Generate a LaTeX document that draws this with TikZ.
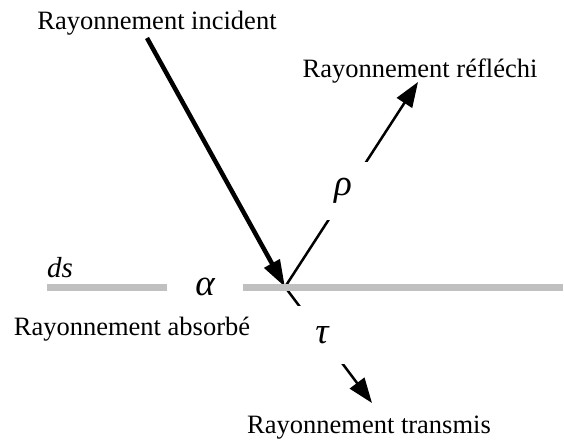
\documentclass[tikz,border=0pt]{standalone}
\usepackage{fontspec}
\setmainfont{Liberation Serif}
\usetikzlibrary{arrows.meta}

\begin{document}
\begin{tikzpicture}[x=1pt, y=-1pt,
    label/.style={font=\fontsize{26.5}{30}\selectfont, inner sep=0pt},
    coef/.style={font=\fontsize{37}{40}\selectfont\itshape, fill=white,
                 minimum width=76pt, minimum height=58pt, inner sep=0pt},
    ray/.style={line width=2.5pt, -{Triangle[length=25pt, width=18pt]}},
    surface/.style={line width=7pt, draw={rgb,255:red,192;green,192;blue,192}}]
  \useasboundingbox (0,0) rectangle (564,439);
  % ------------------------------------------------------------------ points
  \coordinate (O)    at (285,287);
  \coordinate (src)  at (147,38);
  \coordinate (refl) at (418,82);
  \coordinate (tran) at (372,403);
  \coordinate (sL)   at (47,287);
  \coordinate (sR)   at (563,287);
  % ------------------------------------------------------------------ rays
  \draw[line width=4.5pt, -{Triangle[length=27pt, width=17pt]}] (src) -- (O);
  \draw[ray] (O) -- (refl);
  \draw[ray] (O) -- (tran);
  % ------------------------------------------------------------------ the surface ds
  \draw[surface] (sL) -- (sR);
  % ------------------------------------------------------------------ coefficients
  \node[coef] (alpha) at (205,287) {α};
  \node[coef] (rho)   at (343,191) {ρ};
  \node[coef] (tau)   at (322,335) {τ};
  \node[label, font=\fontsize{29}{32}\selectfont\itshape, anchor=base west] (ds) at (47,277) {ds};
  % ------------------------------------------------------------------ texts
  \node[label, anchor=base] (tInc)  at (157,29)  {Rayonnement incident};
  \node[label, anchor=base] (tRef)  at (420,77)  {Rayonnement réfléchi};
  \node[label, anchor=base] (tAbs)  at (132,335) {Rayonnement absorbé};
  \node[label, anchor=base] (tTran) at (369,433) {Rayonnement transmis};
\end{tikzpicture}
\end{document}
